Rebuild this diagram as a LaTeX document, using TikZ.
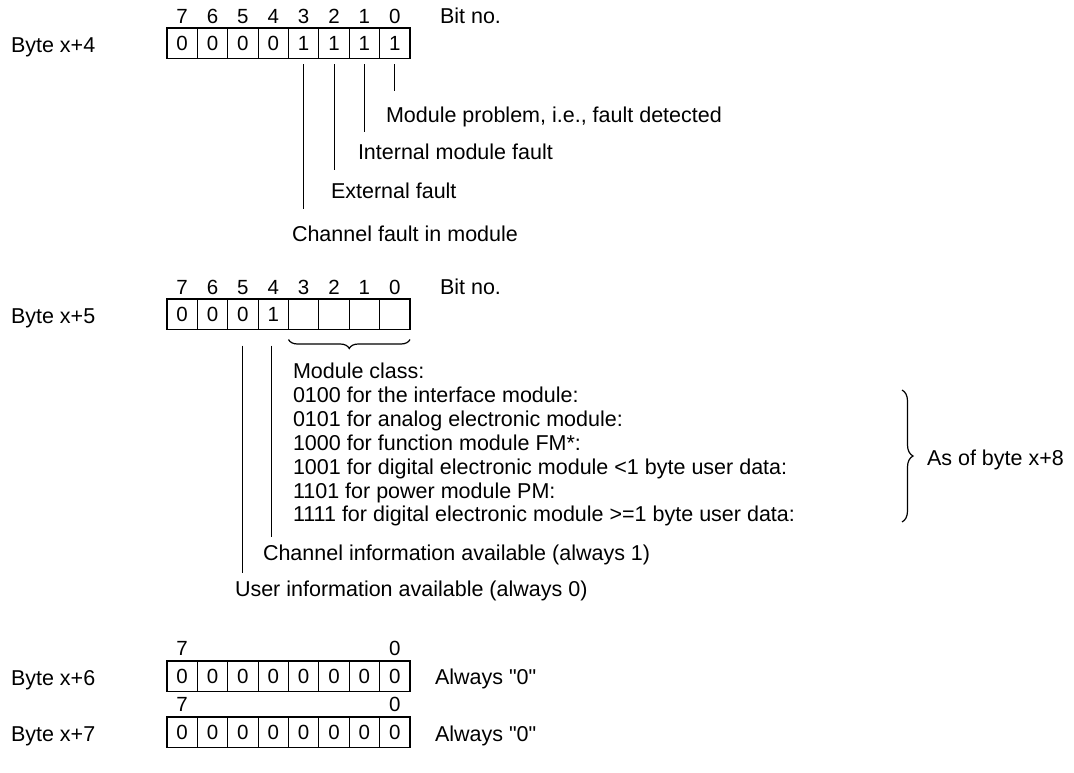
\documentclass[tikz,border=0pt]{standalone}
\usepackage{fontspec}
\setmainfont{Liberation Sans}
\newfontfamily\plainsans{Liberation Sans}
\usetikzlibrary{calc,decorations.pathreplacing}
\begin{document}
\begin{tikzpicture}[x=1pt,y=-1pt,
  every node/.style={font=\fontsize{21.5}{24}\selectfont, inner sep=0pt, outer sep=0pt},
  digits/.style={font=\fontsize{20.5}{22}\selectfont},
  cell/.style={draw, line width=1.1pt, digits, minimum width=30.375pt, minimum height=30.5pt, anchor=north west},
  lbl/.style={anchor=base west},
  num/.style={anchor=base, digits},
  conn/.style={line width=1.1pt},
  bracestyle/.style={line width=1.2pt, decorate}]
\useasboundingbox (0,0) rectangle (1074,773);

% ---------- Byte x+4 ----------
\node[lbl] (l4) at (11,52.5) {Byte x+4};
\foreach \v [count=\i from 0, evaluate=\i as \b using int(7-\i)] in {0,0,0,0,1,1,1,1}{
  \node[cell] (a\b) at (167+\i*30.375,28) {\v};
  \node[num] (an\b) at ($(a\b.north)+(0,-4)$) {\b};
}
\node[lbl] (bit4) at (440,24) {Bit no.};
\node[lbl] (t0) at (386,123) {Module problem, i.e., fault detected};
\node[lbl] (t1) at (358,160) {Internal module fault};
\node[lbl] (t2) at (331,198) {External fault};
\node[lbl] (t3) at (292,241) {Channel fault in module};
\draw[conn] ([yshift=-6pt]a0.south) -- (a0.south |- 0,91);
\draw[conn] ([yshift=-6pt]a1.south) -- (a1.south |- 0,132);
\draw[conn] ([yshift=-6pt]a2.south) -- (a2.south |- 0,170);
\draw[conn] ([yshift=-6pt]a3.south) -- (a3.south |- 0,209);

% ---------- Byte x+5 ----------
\node[lbl] (l5) at (11,323) {Byte x+5};
\foreach \v [count=\i from 0, evaluate=\i as \b using int(7-\i)] in {0,0,0,1,{},{},{},{}}{
  \node[cell] (b\b) at (167+\i*30.375,299) {\v};
  \node[num] (bn\b) at ($(b\b.north)+(0,-5)$) {\b};
}
\node[lbl] (bit5) at (440,294) {Bit no.};
\draw[bracestyle, decoration={brace,mirror,amplitude=9pt}]
  ([yshift=-10pt]b3.south west) -- ([yshift=-10pt]b0.south east);
\foreach \t [count=\k from 0] in {Module class:,
  0100 for the interface module:,
  0101 for analog electronic module:,
  1000 for function module FM*:,
  1001 for digital electronic module <1 byte user data:,
  1101 for power module PM:,
  1111 for digital electronic module >=1 byte user data:}{
  \node[lbl] (m\k) at (293,378.5+\k*23.9) {\t};
}
\node[lbl] (c4) at (263,560) {Channel information available (always 1)};
\node[lbl] (c5) at (235,596) {User information available (always 0)};
\draw[conn] ([xshift=-2pt,yshift=-16pt]b4.south) -- ([xshift=-2pt]b4.south |- 0,537);
\draw[conn] ([yshift=-16pt]b5.south) -- (b5.south |- 0,573);
\coordinate (rbt) at (902,390);
\coordinate (rbb) at (902,522);
\draw[bracestyle, decoration={brace,amplitude=11pt}] (rbt) -- (rbb);
\node[lbl] (asof) at (927,465.5) {As of byte x+8};

% ---------- Byte x+6 ----------
\node[lbl] (l6) at (11,685) {Byte x+6};
\foreach \i in {0,...,7}{
  \node[cell] (c6\i) at (167+\i*30.375,661) {0};
}
\node[num] (n67) at ($(c60.north)+(0,-5.5)$) {7};
\node[num] (n60) at ($(c67.north)+(0,-5.5)$) {0};
\node[lbl] (al6) at (435,684) {\plainsans Always "0"};

% ---------- Byte x+7 ----------
\node[lbl] (l7) at (11,741.5) {Byte x+7};
\foreach \i in {0,...,7}{
  \node[cell] (c7\i) at (167+\i*30.375,717) {0};
}
\node[num] (n77) at ($(c70.north)+(0,-5.5)$) {7};
\node[num] (n70) at ($(c77.north)+(0,-5.5)$) {0};
\node[lbl] (al7) at (435,741.5) {\plainsans Always "0"};
\end{tikzpicture}
\end{document}
